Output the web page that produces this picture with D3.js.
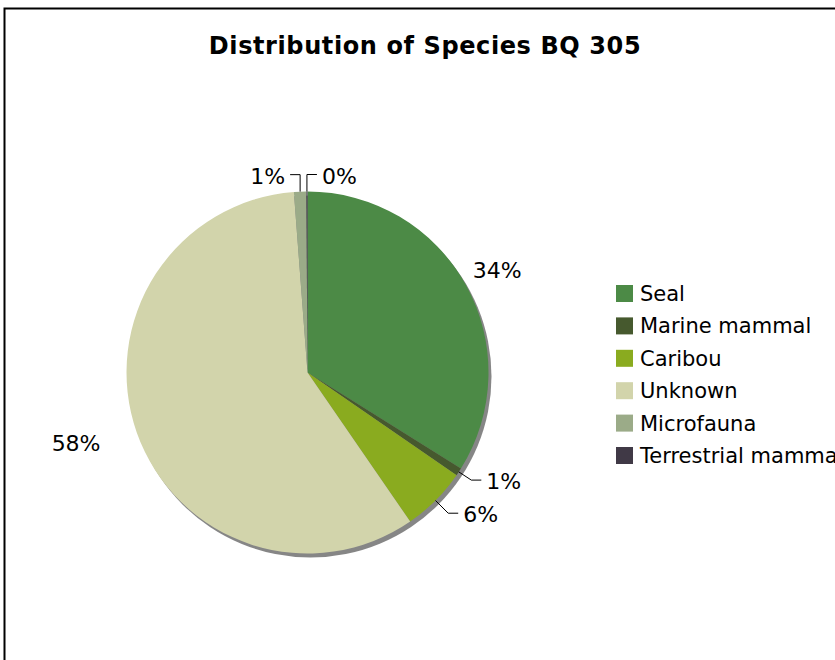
<!DOCTYPE html>
<html>
<head>
<meta charset="utf-8">
<script src="https://cdn.jsdelivr.net/npm/d3@7"></script>
<style>
  body { margin: 0; background: #fff; }
  svg text { font-family: Verdana, "DejaVu Sans", sans-serif; fill: #000; }
</style>
</head>
<body>
<svg id="chart" width="835" height="660"></svg>
<script>
// chart data (share of each category)
var species = ["Seal", "Marine mammal", "Caribou", "Unknown", "Microfauna", "Terrestrial mammal"];
var shares = [33.9, 0.7, 5.8, 58.4, 1.1, 0.1];
var colours = ["#4c8a46", "#46592e", "#8aab1f", "#d2d4ab", "#9bab88", "#403946"];
var titleText = "Distribution of Species BQ 305";

var svg = d3.select("#chart");

// outer frame (cut off at right and bottom, like the source)
svg.append("rect")
    .attr("x", 4.5).attr("y", 8.5)
    .attr("width", 900).attr("height", 700)
    .attr("fill", "#fff")
    .attr("stroke", "#000")
    .attr("stroke-width", 2);

svg.append("text")
    .attr("x", 425).attr("y", 54)
    .attr("text-anchor", "middle")
    .style("font-size", "24px")
    .style("font-weight", "bold")
    .style("letter-spacing", "0.6px")
    .text(titleText);

var cx = 307.5, cy = 372.5, radius = 181;

var data = species.map(function (d, i) {
    return {name: d, value: shares[i], colour: colours[i]};
});

var pie = d3.pie().sort(null).value(function (d) { return d.value; });
var arcs = pie(data);
var total = d3.sum(shares);

var arc = d3.arc().innerRadius(0).outerRadius(radius);

var g = svg.append("g").attr("transform", "translate(" + cx + "," + cy + ")");

// drop shadow
g.append("circle")
    .attr("cx", 3).attr("cy", 4)
    .attr("r", radius)
    .attr("fill", "#868686");

g.selectAll("path.slice").data(arcs).enter()
    .append("path")
    .attr("class", "slice")
    .attr("d", arc)
    .attr("fill", function (d) { return d.data.colour; });

// labels
var fmt = d3.format(".0%");

function edgePoint(a, r) {
    return [Math.sin(a) * r, -Math.cos(a) * r];
}

arcs.forEach(function (d) {
    var mid = (d.startAngle + d.endAngle) / 2;
    var label = fmt(d.data.value / total);
    var small = d.data.value / total < 0.1;

    if (!small) {
        var right = Math.sin(mid) > 0;
        var p = edgePoint(mid, radius + (right ? 8 : 30));
        g.append("text")
            .attr("x", right ? p[0] : p[0] - 8)
            .attr("y", right ? p[1] - 3 : p[1] + 8)
            .attr("text-anchor", right ? "start" : "end")
            .style("font-size", "22px")
            .text(label);
    } else {
        var e = edgePoint(mid, radius);
        var k = edgePoint(mid, radius + (d.data.name === "Caribou" ? 18 : 15));
        var side = Math.sin(mid) >= 0 ? 1 : -1;
        if (Math.abs(Math.sin(mid)) < 0.05) {
            // slices at the top: straight up then sideways
            side = d.data.name === "Microfauna" ? -1 : 1;
            k = [e[0], e[1] - 17];
        }
        var h = [k[0] + side * 10, k[1]];
        g.append("polyline")
            .attr("points", [e, k, h].map(function (q) { return q.join(","); }).join(" "))
            .attr("fill", "none")
            .attr("stroke", "#000")
            .attr("stroke-width", 1);
        g.append("text")
            .attr("x", h[0] + side * 5)
            .attr("y", h[1] + 9)
            .attr("text-anchor", side > 0 ? "start" : "end")
            .style("font-size", "22px")
            .text(label);
    }
});

// legend
var legend = svg.append("g").attr("transform", "translate(616,285)");
var rows = legend.selectAll("g").data(data).enter()
    .append("g")
    .attr("transform", function (d, i) { return "translate(0," + (i * 32.4) + ")"; });

rows.append("rect")
    .attr("width", 17).attr("height", 17)
    .attr("fill", function (d) { return d.colour; });

rows.append("text")
    .attr("x", 24).attr("y", 16)
    .style("font-size", "21px")
    .text(function (d) { return d.name; });
</script>
</body>
</html>
